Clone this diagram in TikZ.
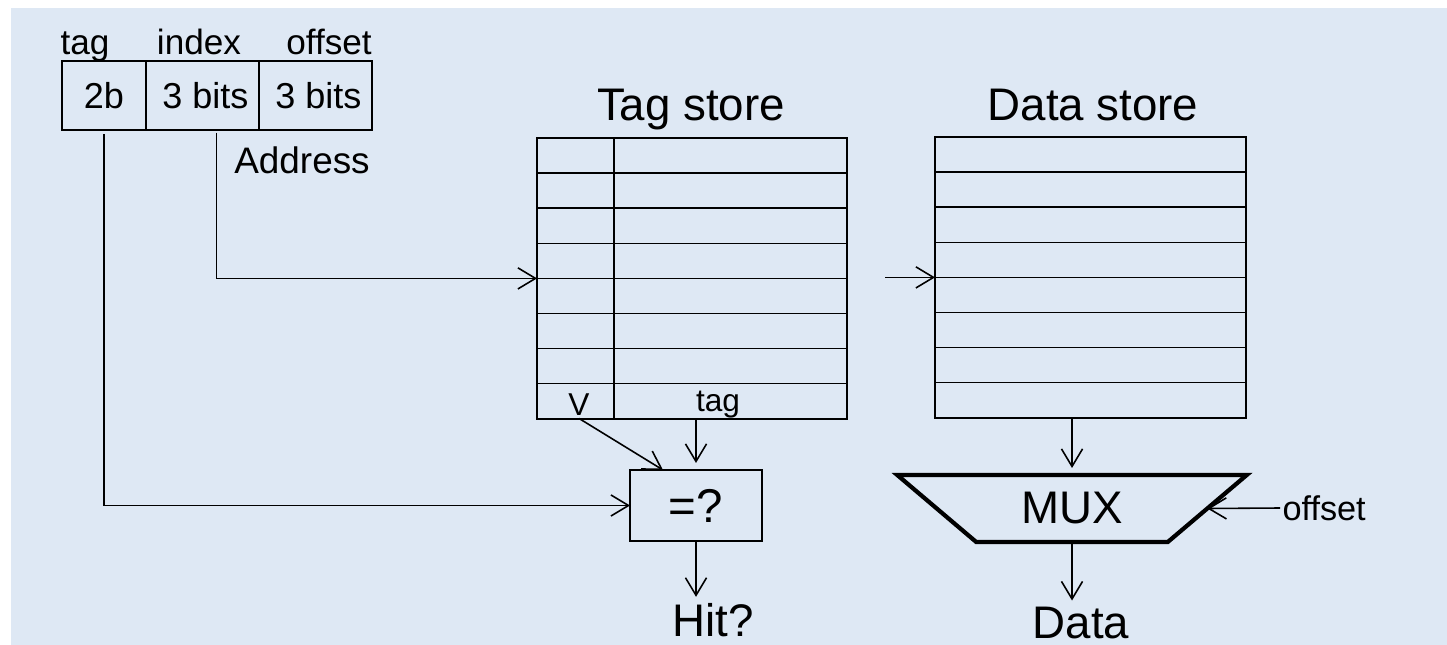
\documentclass[tikz,border=0pt]{standalone}
\usepackage{fontspec}
\setmainfont{Liberation Sans}
\usepackage{xcolor}
\usetikzlibrary{arrows.meta, positioning, calc, shapes.geometric}
\definecolor{slidebg}{RGB}{222,232,244}

\begin{document}
\begin{tikzpicture}[x=0.02cm, y=-0.02cm, line width=0.9pt,
  cell/.style={draw, rectangle, inner sep=0pt, outer sep=0pt, minimum height=0.702cm},
  field/.style={draw, rectangle, inner sep=0pt, outer sep=0pt, minimum height=1.38cm, font=\fontsize{20.5}{24}\selectfont},
  big/.style={font=\fontsize{26}{30}\selectfont, inner sep=3pt},
  mid/.style={font=\fontsize{20}{24}\selectfont, inner sep=0pt},
  small/.style={font=\fontsize{18}{21}\selectfont, inner sep=1pt},
  arr/.style={-{Straight Barb[length=10pt, width=12pt]}}]
% Slide background
\useasboundingbox (0,0) rectangle (1447,645);
\fill[slidebg] (11,8) rectangle (1460,660);
% Address: tag | index | offset
\node[field, minimum width=1.68cm, anchor=north west] (tagf) at (62,61) {2b};
\node[field, minimum width=2.26cm, right=0pt of tagf] (idxf) {\,3 bits};
\node[field, minimum width=2.26cm, right=0pt of idxf] (offf) {\,3 bits};
\node[mid, anchor=base] (tagl) at (85,55) {tag};
\node[mid, anchor=base] (idxl) at (199,55) {index};
\node[mid, anchor=base] (offl) at (329,55) {offset};
\node[mid, font=\fontsize{21}{24}\selectfont] (addr) at (302,160) {Address};
% Tag store and data store, 8 sets each
\foreach \i in {0,...,7} {
  \node[cell, minimum width=1.54cm, anchor=north west] (v\i) at (537,{138+35.1*\i}) {};
  \node[cell, minimum width=4.66cm, right=0pt of v\i] (t\i) {};
  \node[cell, minimum width=6.22cm, anchor=north west] (d\i) at (935,{137+35.1*\i}) {};
}
\node[big, anchor=base] (tsl) at (691,121) {Tag store};
\node[big, anchor=base] (dsl) at (1093,121) {Data store};
\node[small] (vl) at (579,405) {V};
\node[small] (tl) at (718,405) {tag};
% Comparator
\node[draw, rectangle, minimum width=2.64cm, minimum height=1.42cm, inner sep=0pt, outer sep=0pt,
  font=\fontsize{27}{30}\selectfont] (cmp) at (696,505.5) {=?};
\node[big, anchor=base] (hit) at (713,636) {Hit?};
% MUX
\node[draw, trapezium, shape border rotate=180, trapezium stretches=true, trapezium angle=37.3,
  minimum width=7cm, minimum height=1.34cm, line width=2.4pt, inner sep=0pt, outer sep=0pt,
  font=\fontsize{26}{30}\selectfont] (mux) at (1072,508.5) {MUX};
\node[small, font=\fontsize{19.5}{22}\selectfont, anchor=west] (offr) at (1280,508) {offset};
\node[big, anchor=base] (datal) at (1081,638) {Data};
% Connections
\draw[arr, shorten <=2.3pt] (tagf.south) |- (cmp.west);
\draw[arr, shorten <=1.5pt] ([xshift=0.28cm]idxf.south) |- (v4.north west);
\coordinate[left=1cm of d4.north west] (din);
\draw[arr] (din) -- (d4.north west);
\draw[arr] (vl.south) -- ($(cmp.north west)!0.25!(cmp.north east)$);
\draw[arr, shorten >=4pt] (cmp.north |- t7.south) -- (cmp.north);
\draw[arr] (cmp.south) -- (cmp.south |- hit.north);
\draw[arr, shorten >=4pt] (mux.north |- d7.south) -- (mux.north);
\draw[arr] (mux.south) -- (mux.south |- datal.north);
\draw[arr] (offr.west) -- (mux.east);
\end{tikzpicture}
\end{document}
